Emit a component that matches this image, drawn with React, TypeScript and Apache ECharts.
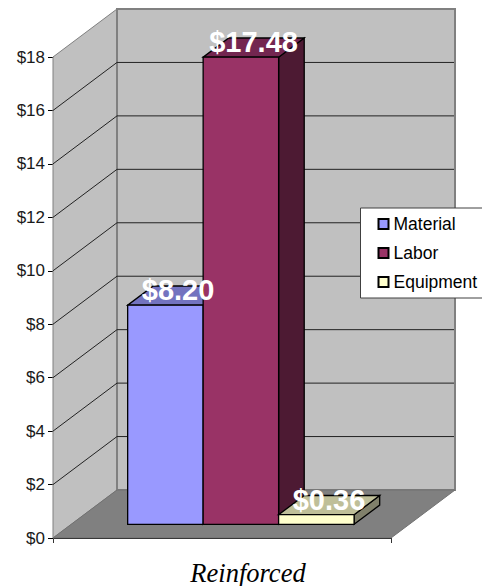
import React, { useEffect, useRef } from "react";
import * as echarts from "echarts";

const categories = ["Reinforced"];
const seriesNames = ["Material", "Labor", "Equipment"];
const materialValues = [8.2];
const laborValues = [17.48];
const equipmentValues = [0.36];
const valueLabels = ["$8.20", "$17.48", "$0.36"];
const yTicks = [0, 2, 4, 6, 8, 10, 12, 14, 16, 18];
const fronts = ["#9999ff", "#993366", "#ffffcc"];
const tops = ["#7373bf", "#732650", "#bfbf99"];
const sides = ["#4d4d80", "#4d1a33", "#80806b"];

const DEPTH_X = 64;
const DEPTH_Y = -48;
const BAR_FRAC = 0.2233;
const BAR_DEPTH_START = 0.295;
const BAR_DEPTH = 0.4;

function poly(points: number[][], fill: string, stroke: string, lineWidth: number) {
  return {
    type: "polygon",
    shape: { points },
    style: { fill, stroke, lineWidth },
  };
}

function renderWalls(_: any, api: any) {
  const center = api.coord([0, 0]);
  const w = api.size([1, 0])[0];
  const x0 = Math.round(center[0] - w / 2);
  const x1 = x0 + w;
  const y0 = center[1];
  const yMax = api.coord([0, yTicks[yTicks.length - 1]])[1];
  const children: any[] = [
    poly([[x0, y0], [x0 + DEPTH_X, y0 + DEPTH_Y], [x0 + DEPTH_X, yMax + DEPTH_Y], [x0, yMax]], "#c0c0c0", "#808080", 1),
    poly([[x0 + DEPTH_X, y0 + DEPTH_Y], [x1 + DEPTH_X, y0 + DEPTH_Y], [x1 + DEPTH_X, yMax + DEPTH_Y], [x0 + DEPTH_X, yMax + DEPTH_Y]], "#c0c0c0", "#808080", 2),
    poly([[x0, y0], [x1, y0], [x1 + DEPTH_X, y0 + DEPTH_Y], [x0 + DEPTH_X, y0 + DEPTH_Y]], "#808080", "#707070", 1),
  ];
  yTicks.slice(1, -1).forEach((t) => {
    const y = api.coord([0, t])[1];
    children.push({
      type: "polyline",
      shape: { points: [[x0, y], [x0 + DEPTH_X, y + DEPTH_Y], [x1 + DEPTH_X - 1, y + DEPTH_Y]] },
      style: { fill: "none", stroke: "#222222", lineWidth: 1 },
    });
  });
  return { type: "group", children };
}

function renderBar(index: number) {
  return (_: any, api: any) => {
    const val = api.value(1);
    const center = api.coord([0, 0]);
    const top = api.coord([0, val])[1];
    const band = api.size([1, 0])[0];
    const barW = band * BAR_FRAC;
    const ox = DEPTH_X * BAR_DEPTH_START;
    const oy = DEPTH_Y * 0.285;
    const dx = DEPTH_X * BAR_DEPTH;
    const dy = DEPTH_Y * BAR_DEPTH;
    const xl = center[0] + ox + (index - 1.5) * barW;
    const xr = xl + barW;
    const yb = center[1] + oy;
    const yt = top + oy;
    return {
      type: "group",
      children: [
        poly([[xr, yb], [xr + dx, yb + dy], [xr + dx, yt + dy], [xr, yt]], sides[index], "#000000", 1.3),
        poly([[xl, yt], [xr, yt], [xr + dx, yt + dy], [xl + dx, yt + dy]], tops[index], "#000000", 1.3),
        poly([[xl, yb], [xr, yb], [xr, yt], [xl, yt]], fronts[index], "#000000", 1.3),
      ],
    };
  };
}

function renderLabel(index: number) {
  return (_: any, api: any) => {
    const top = api.coord([0, api.value(1)])[1];
    const center = api.coord([0, 0]);
    const band = api.size([1, 0])[0];
    const barW = band * BAR_FRAC;
    const d = 0.285 + BAR_DEPTH / 2;
    return {
      type: "text",
      x: center[0] + DEPTH_X * d + (index - 1) * barW + 0.5,
      y: top + DEPTH_Y * d - 5.5,
      z2: 100,
      style: {
        text: valueLabels[index],
        fill: "#ffffff",
        font: 'bold 29px "Liberation Sans", Arial, sans-serif',
        align: "center",
        verticalAlign: "middle",
      },
    };
  };
}

export default function App() {
  const ref = useRef<HTMLDivElement>(null);
  useEffect(() => {
    const chart = echarts.init(ref.current!, undefined, { renderer: "svg" });
    const valuesBySeries = [materialValues, laborValues, equipmentValues];
    chart.setOption({
      animation: false,
      backgroundColor: "#ffffff",
      grid: { left: 53, top: 57, width: 338, height: 481, containLabel: false, outerBoundsMode: "none" },
      legend: {
        data: seriesNames,
        orient: "vertical",
        icon: "rect",
        left: 360.5,
        top: 208,
        itemWidth: 10,
        itemHeight: 10,
        itemGap: 11,
        padding: [7, 20, 7, 17],
        backgroundColor: "#ffffff",
        borderColor: "#404040",
        borderWidth: 1,
        textStyle: { fontFamily: '"Liberation Sans", Arial, sans-serif', fontSize: 17.5, color: "#000000" },
        z: 20,
      },
      xAxis: {
        type: "category",
        data: categories,
        axisLine: { lineStyle: { color: "#000000", width: 1 } },
        axisTick: { show: true, length: 5, lineStyle: { color: "#333333" } },
        axisLabel: {
          fontFamily: '"Liberation Serif", "Times New Roman", serif',
          fontStyle: "italic",
          fontSize: 26.5,
          color: "#000000",
          margin: 21,
          padding: [0, 0, 0, 52],
        },
      },
      yAxis: {
        type: "value",
        min: 0,
        max: 18,
        interval: 2,
        axisLine: { show: true, lineStyle: { color: "#000000", width: 1 } },
        axisTick: { show: true, length: 5, lineStyle: { color: "#000000" } },
        splitLine: { show: false },
        axisLabel: {
          formatter: (v: number) => "$" + v,
          fontFamily: '"Liberation Sans", Arial, sans-serif',
          fontSize: 17,
          color: "#1a1a1a",
          margin: 8,
        },
      },
      series: [
        { type: "custom", name: "walls", data: [[0, 0]], z: 1, renderItem: renderWalls, silent: true },
        ...seriesNames.map((name, i) => ({
          type: "custom",
          name,
          z: 2 + i,
          data: [[0, valuesBySeries[i][0]]],
          itemStyle: { color: fronts[i], borderColor: "#000000", borderWidth: 1 },
          renderItem: renderBar(i),
        })),
        ...seriesNames.map((name, i) => ({
          type: "custom",
          name: name + " label",
          z: 10,
          data: [[0, valuesBySeries[i][0]]],
          renderItem: renderLabel(i),
        })),
      ],
    });
    return () => chart.dispose();
  }, []);
  return <div ref={ref} style={{ width: 482, height: 586, position: "fixed", left: 0, top: 0 }} />;
}
